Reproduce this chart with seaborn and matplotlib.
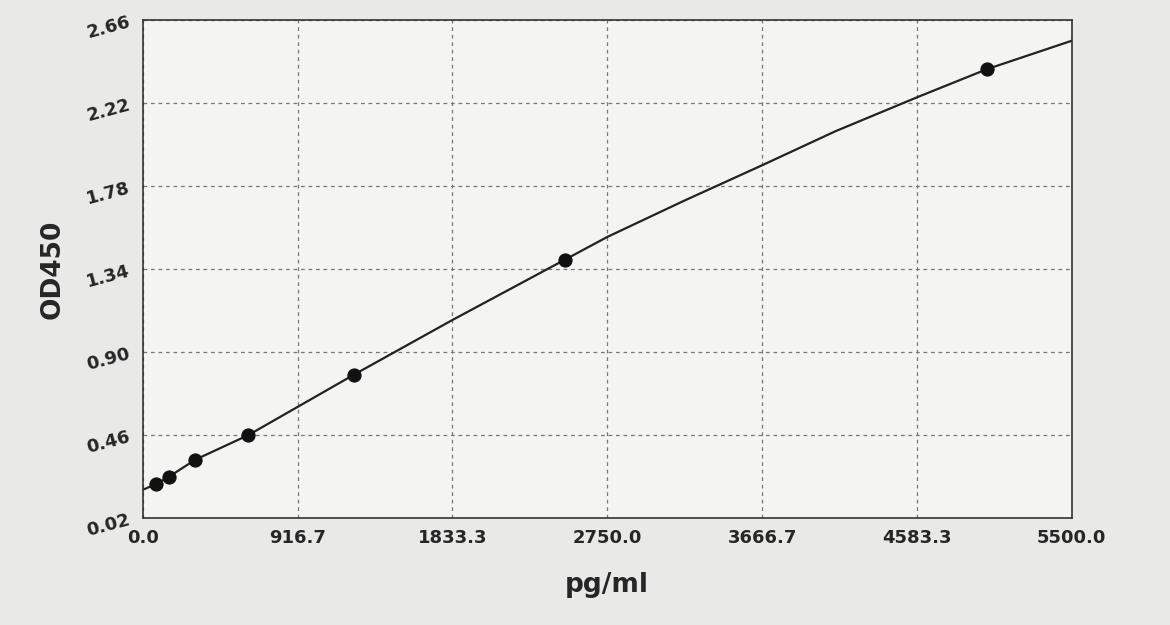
import matplotlib
matplotlib.use("Agg")
import matplotlib.pyplot as plt
import seaborn as sns
import pandas as pd

# standard points (pg/ml, OD450)
conc = [78, 156, 312, 625, 1250, 2500, 5000]
od = [0.20, 0.24, 0.33, 0.46, 0.78, 1.39, 2.40]

# fitted curve
curve_x = [0, 78, 156, 312, 625, 1250, 1833.3, 2500, 2750, 3200, 3666.7, 4100, 4583.3, 5000, 5500]
curve_y = [0.17, 0.20, 0.24, 0.33, 0.46, 0.78, 1.07, 1.39, 1.51, 1.70, 1.89, 2.07, 2.25, 2.40, 2.55]

xticks = [0.0, 916.7, 1833.3, 2750.0, 3666.7, 4583.3, 5500.0]
yticks = [0.02, 0.46, 0.90, 1.34, 1.78, 2.22, 2.66]

sns.set_style("white")
fig = plt.figure(figsize=(11.7, 6.25), dpi=100, facecolor="#e9e9e7")
ax = fig.add_axes([0.122, 0.171, 0.794, 0.797])
ax.set_facecolor("#f4f4f2")

sns.lineplot(x=curve_x, y=curve_y, ax=ax, color="#222222", linewidth=1.6)
sns.scatterplot(data=pd.DataFrame({"c": conc, "od": od}), x="c", y="od", ax=ax,
                color="#111111", s=90, edgecolor="#111111", zorder=3)

ax.set_xlim(0, 5500)
ax.set_ylim(0.02, 2.66)
ax.set_xticks(xticks)
ax.set_xticklabels([f"{v:.1f}" for v in xticks], fontsize=13, fontweight="bold")
ax.set_yticks(yticks)
ax.set_yticklabels([f"{v:.2f}" for v in yticks], fontsize=13, fontweight="bold", rotation=15)
ax.grid(True, linestyle=(0, (3, 3)), color="#777777", linewidth=0.9)
for s in ax.spines.values():
    s.set_color("#333333")
    s.set_linewidth(1.2)
ax.tick_params(axis="both", direction="out", length=4, color="#333333")
ax.set_xlabel("pg/ml", fontsize=19, fontweight="bold", labelpad=18)
ax.set_ylabel("OD450", fontsize=19, fontweight="bold", labelpad=14)

fig.savefig("out.png", dpi=100, facecolor=fig.get_facecolor())
